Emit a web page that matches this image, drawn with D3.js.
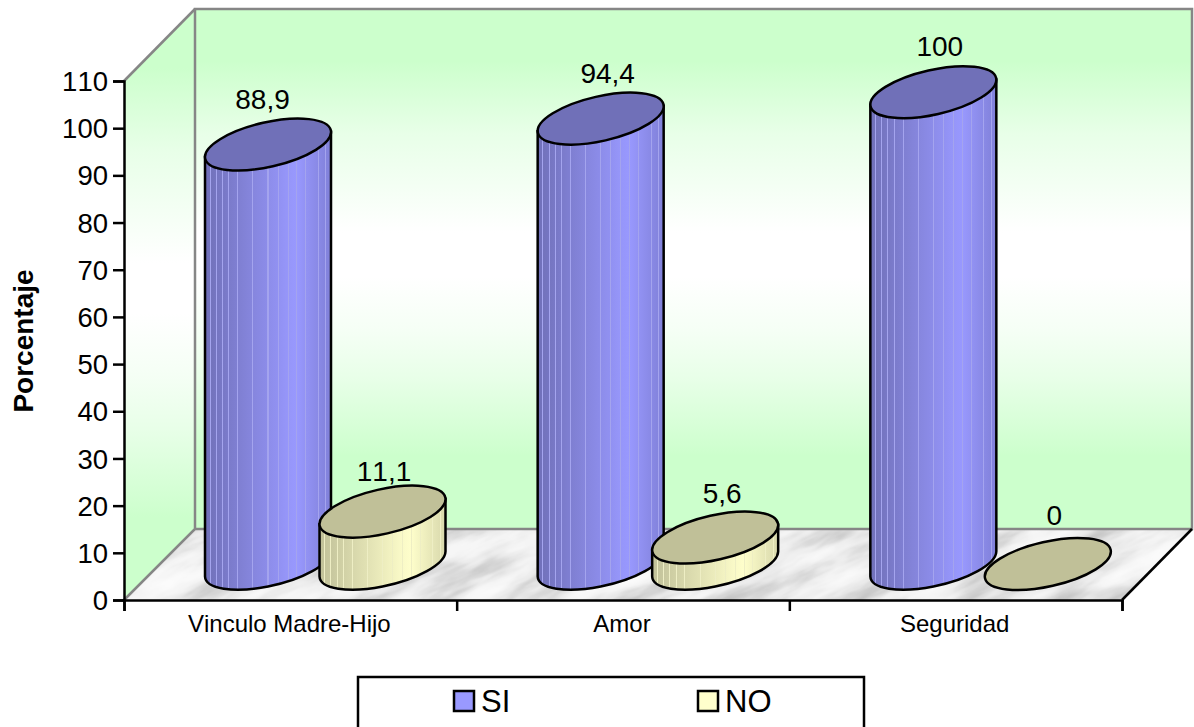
<!DOCTYPE html>
<html>
<head>
<meta charset="utf-8">
<script src="https://cdn.jsdelivr.net/npm/d3@7"></script>
<style>
html, body { margin: 0; padding: 0; background: #fff; overflow: hidden; }
text { font-family: "Liberation Sans", Arial, sans-serif; fill: #000; font-kerning: none; }
</style>
</head>
<body>
<div id="chart"></div>
<script>
const categories = ["Vinculo Madre-Hijo", "Amor", "Seguridad"];
const seriesNames = ["SI", "NO"];
const siValues = [88.9, 94.4, 100];
const noValues = [11.1, 5.6, 0];
const valueLabels = [["88,9", "94,4", "100"], ["11,1", "5,6", "0"]];
const yTicks = [0, 10, 20, 30, 40, 50, 60, 70, 80, 90, 100, 110];

const width = 1194, height = 727;
const depth = 71;              // oblique offset of the back wall
const plotLeft = 124, plotRight = 1122, plotBottom = 600, plotTop = 81;

const svg = d3.select("#chart").append("svg")
    .attr("width", width)
    .attr("height", height);

const yScale = d3.scaleLinear().domain([0, 110]).range([plotBottom, plotTop]);
const xScale = d3.scaleBand().domain(categories).range([plotLeft, plotRight]);

const defs = svg.append("defs");

function addGradient(id, attrs, stops) {
    const g = defs.append("linearGradient").attr("id", id);
    Object.keys(attrs).forEach(k => g.attr(k, attrs[k]));
    stops.forEach(s => g.append("stop").attr("offset", s[0]).attr("stop-color", s[1]));
}

const wallStops = [[0, "#ccffcc"], [0.1, "#ccffcc"], [0.24, "#e8ffe8"], [0.35, "#f5fff5"], [0.43, "#ffffff"],
    [0.515, "#ffffff"], [0.62, "#f5fff5"], [0.71, "#e8ffe8"], [0.86, "#ccffcc"], [1, "#ccffcc"]];
addGradient("backWall", {x1: 0, y1: 0, x2: 0, y2: 1}, wallStops);
addGradient("sideWall", {x1: 0, y1: 0, x2: 0, y2: 1}, wallStops);

// cylinder shading with the thin light seams of the original
function cylinderStops(dark, mid, light, seam) {
    const shade = d3.scaleLinear().domain([0, 0.72, 1]).range([dark, light, mid]);
    const seams = [0.04, 0.09, 0.14, 0.19, 0.26, 0.38, 0.5, 0.58, 0.66, 0.73, 0.8, 0.9, 0.96];
    const stops = [];
    let last = 0;
    seams.forEach(s => {
        stops.push([last, shade(last)], [s - 0.004, shade(s)], [s - 0.004, seam], [s + 0.004, seam], [s + 0.004, shade(s)]);
        last = s + 0.004;
    });
    stops.push([1, shade(1)]);
    return stops;
}
addGradient("bodySI", {x1: 0, y1: 0, x2: 1, y2: 0}, cylinderStops("#7070b8", "#8080d8", "#9999ff", "#a4a4ee"));
addGradient("bodyNO", {x1: 0, y1: 0, x2: 1, y2: 0}, cylinderStops("#c0c098", "#d8d8ac", "#ffffcc", "#eeeec4"));

const marble = defs.append("filter").attr("id", "marble")
    .attr("x", 0).attr("y", 0).attr("width", 1).attr("height", 1);
marble.append("feTurbulence")
    .attr("type", "fractalNoise")
    .attr("baseFrequency", "0.012 0.045")
    .attr("numOctaves", 4)
    .attr("seed", 11);
marble.append("feColorMatrix")
    .attr("values", "1 0 0 0 0  1 0 0 0 0  1 0 0 0 0  0 0 0 0 1");
const marbleTransfer = marble.append("feComponentTransfer");
["feFuncR", "feFuncG", "feFuncB"].forEach(f => marbleTransfer.append(f)
    .attr("type", "table")
    .attr("tableValues", "0.5 0.55 0.62 0.72 0.83 0.9 0.94 0.96 0.97"));

// walls and floor
const corner = {
    frontLeft: [plotLeft, plotBottom],
    frontRight: [plotRight, plotBottom],
    backLeft: [plotLeft + depth, plotBottom - depth],
    backRight: [plotRight + depth - 1, plotBottom - depth],
    topFront: [plotLeft, plotTop],
    topBack: [plotLeft + depth, plotTop - 72],
    topRight: [plotRight + depth - 1, plotTop - 72]
};
const pts = a => a.map(p => p.join(",")).join(" ");

svg.append("polygon")
    .attr("points", pts([corner.topBack, corner.topRight, corner.backRight, corner.backLeft]))
    .attr("fill", "url(#backWall)");
svg.append("polygon")
    .attr("points", pts([corner.topFront, corner.topBack, corner.backLeft, corner.frontLeft]))
    .attr("fill", "url(#sideWall)");

defs.append("clipPath").attr("id", "floorClip").append("polygon")
    .attr("points", pts([corner.backLeft, corner.backRight, corner.frontRight, corner.frontLeft]));
svg.append("g").attr("clip-path", "url(#floorClip)")
    .append("rect")
    .attr("x", -200).attr("y", 300).attr("width", 1700).attr("height", 700)
    .attr("transform", "rotate(-24 650 565)")
    .attr("filter", "url(#marble)");

svg.append("polyline")
    .attr("points", pts([corner.frontLeft, corner.backLeft, corner.topBack, corner.topRight, corner.backRight, corner.backLeft]))
    .attr("fill", "none").attr("stroke", "#868686").attr("stroke-width", 2.5);
svg.append("line")
    .attr("x1", corner.topFront[0]).attr("y1", corner.topFront[1])
    .attr("x2", corner.topBack[0]).attr("y2", corner.topBack[1])
    .attr("stroke", "#868686").attr("stroke-width", 2.5);
svg.append("line")
    .attr("x1", corner.frontRight[0]).attr("y1", corner.frontRight[1])
    .attr("x2", corner.backRight[0]).attr("y2", corner.backRight[1])
    .attr("stroke", "#000").attr("stroke-width", 2.5);

// axes
const yAxis = d3.axisLeft(yScale).tickValues(yTicks).tickSize(11).tickPadding(5);
const yAxisG = svg.append("g").attr("transform", "translate(" + plotLeft + ",0)").call(yAxis);
yAxisG.selectAll("text").style("font-size", "27.5px").attr("dy", "0.35em");

const xEdges = d3.scaleLinear().domain([0, 3]).range([plotLeft, plotRight]);
svg.append("g").attr("transform", "translate(0," + plotBottom + ")")
    .call(d3.axisBottom(xEdges).tickValues([0, 1, 2, 3]).tickSize(11).tickFormat(""));
svg.selectAll(".domain").attr("stroke-width", 2.5);
svg.selectAll(".tick line").attr("stroke-width", 2.5);

svg.selectAll(".categoryLabel")
    .data(categories)
    .enter().append("text")
    .attr("class", "categoryLabel")
    .attr("x", d => xScale(d) + xScale.bandwidth() / 2 - 1)
    .attr("y", 632)
    .attr("text-anchor", "middle")
    .style("font-size", "24px")
    .text(d => d);

svg.append("text")
    .attr("transform", "translate(33,341) rotate(-90)")
    .attr("text-anchor", "middle")
    .style("font-size", "28px")
    .style("font-weight", "bold")
    .text("Porcentaje");

// cylinders
const halfW = 63;              // half the width of a cylinder
const skew = 12.5;             // rise of the top ellipse across its half width
const radiusA = 64.4, radiusB = 22.3, tilt = -12.75;
const baseLift = 36;           // cylinder sits half way into the floor depth
const siOffset = 144, noOffset = 258.5;
// the label placement is not regular in the original
const labelDx = {SI: [-5.5, 7, 6.5], NO: [1.5, 7, 6.5]};
const labelDy = {SI: [-35.6, -35.6, -36], NO: [-31, -34.6, -39]};

function drawCylinder(g, cx, value, serie, label, i) {
    const cyTop = yScale(value) - baseLift;
    const cyBase = yScale(0) - baseLift;
    if (value > 0) {
        g.append("path")
            .attr("d", "M" + (cx - halfW) + "," + (cyTop + skew)
                + "L" + (cx - halfW) + "," + (cyBase + skew)
                + "A" + radiusA + "," + radiusB + " " + tilt + " 0 0 " + (cx + halfW) + "," + (cyBase - skew)
                + "L" + (cx + halfW) + "," + (cyTop - skew) + "Z")
            .attr("fill", "url(#body" + serie + ")")
            .attr("stroke", "#000").attr("stroke-width", 2.5);
    }
    g.append("ellipse")
        .attr("rx", radiusA).attr("ry", radiusB)
        .attr("transform", "translate(" + cx + "," + cyTop + ") rotate(" + tilt + ")")
        .attr("fill", serie === "SI" ? "#7070b8" : "#c0c098")
        .attr("stroke", "#000").attr("stroke-width", 2.5);
    g.append("text")
        .attr("x", cx + labelDx[serie][i])
        .attr("y", cyTop + labelDy[serie][i])
        .attr("text-anchor", "middle")
        .style("font-size", "28px")
        .text(label);
}

categories.forEach((c, i) => {
    const g = svg.append("g");
    drawCylinder(g, xScale(c) + siOffset, siValues[i], "SI", valueLabels[0][i], i);
    drawCylinder(g, xScale(c) + noOffset, noValues[i], "NO", valueLabels[1][i], i);
});

// legend
svg.append("rect")
    .attr("x", 358).attr("y", 677).attr("width", 506).attr("height", 60)
    .attr("fill", "#fff").attr("stroke", "#000").attr("stroke-width", 2.5);
const legendX = d3.scaleOrdinal().domain(seriesNames).range([454, 698]);
const legendFill = d3.scaleOrdinal().domain(seriesNames).range(["#9999ff", "#ffffcc"]);
const legend = svg.selectAll(".legendItem")
    .data(seriesNames)
    .enter().append("g")
    .attr("class", "legendItem")
    .attr("transform", d => "translate(" + legendX(d) + ",691)");
legend.append("rect")
    .attr("width", 20).attr("height", 20)
    .attr("fill", d => legendFill(d))
    .attr("stroke", "#000").attr("stroke-width", 2.5);
legend.append("text")
    .attr("x", 27).attr("y", 21)
    .style("font-size", "31px")
    .text(d => d);
</script>
</body>
</html>
